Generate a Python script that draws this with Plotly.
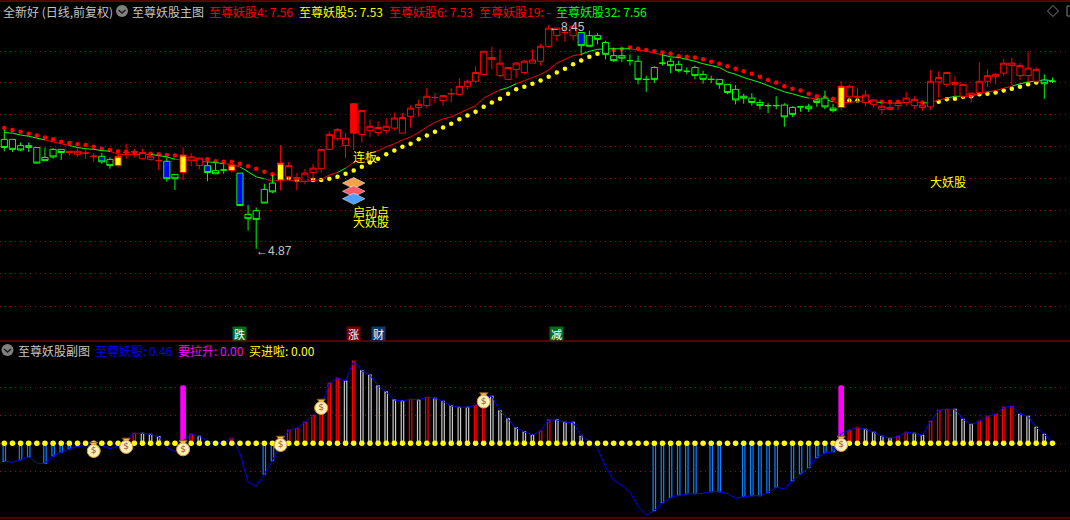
import plotly.graph_objects as go

candle_style = list("gggggggg" "yrrrbgy" "rrrrr" "bgy" "rr" "bgg" "y" "b" "gggg" "y" "rrrrrrrr" "R"
                    + "r" * 27 + "b" + "g" * 31 + "y" + "r" * 24 + "bg")
highs = [6.77,6.62,6.57,6.57,6.49,6.49,6.48,6.46,
 6.43,6.48,6.46,6.40,6.40,6.33,6.40,6.55,6.47,6.47,6.41,6.40,6.33,6.06,6.49,6.40,6.33,6.26,6.24,6.22,6.26,6.08,
 5.57,5.53,5.91,6.05,6.53,6.26,6.08,6.15,6.23,6.46,
 6.75,6.80,6.72,7.19,7.08,6.94,6.91,6.96,7.05,7.04,
 7.16,7.26,7.44,7.36,7.32,7.44,7.60,7.58,7.79,8.03,
 8.10,8.06,7.77,7.86,7.89,8.06,8.15,8.45,8.40,8.42,
 8.45,8.34,8.36,8.32,8.20,8.09,8.08,7.98,7.96,7.64,
 7.79,7.98,7.92,7.88,7.77,7.80,7.72,7.64,7.58,7.50,
 7.49,7.35,7.36,7.26,7.20,7.31,7.20,7.15,7.14,7.19,
 7.27,7.40,7.19,7.55,7.50,7.44,7.41,7.26,7.25,7.25,
 7.25,7.38,7.31,7.23,7.73,7.71,7.69,7.63,7.50,7.36,
 7.85,7.74,7.68,7.91,7.93,7.84,8.03,7.77,7.66,7.61]
lows = [6.43,6.42,6.43,6.42,6.24,6.28,6.31,6.29,6.36,6.34,
 6.31,6.26,6.23,6.15,6.17,6.31,6.33,6.30,6.28,6.13,
 5.94,5.81,5.97,6.19,6.14,5.95,6.07,6.07,6.09,5.56,
 5.16,4.87,5.60,5.76,5.80,5.97,5.80,5.90,5.95,6.09,
 6.45,6.60,6.32,6.45,6.57,6.66,6.67,6.70,6.76,6.72,
 6.81,6.98,7.12,7.20,7.16,7.21,7.34,7.42,7.52,7.65,
 7.74,7.61,7.57,7.60,7.66,7.84,7.80,8.09,8.19,8.18,
 8.20,7.96,8.10,8.14,7.90,7.86,7.86,7.80,7.50,7.38,
 7.52,7.80,7.68,7.69,7.66,7.58,7.51,7.52,7.43,7.34,
 7.18,7.19,7.16,7.10,7.04,7.10,6.82,6.98,7.06,7.06,
 7.14,7.10,7.05,7.08,7.21,7.20,7.15,7.13,7.02,7.08,
 7.09,7.15,7.10,7.08,7.09,7.29,7.46,7.30,7.28,7.21,
 7.37,7.46,7.50,7.63,7.49,7.57,7.53,7.53,7.27,7.52]
body_top = [6.62,6.62,6.52,6.52,6.49,6.33,6.46,6.46,6.43,6.43,
 6.40,6.35,6.35,6.30,6.35,6.41,6.42,6.41,6.35,6.28,
 6.27,6.06,6.37,6.34,6.32,6.20,6.12,6.13,6.21,6.08,
 5.42,5.48,5.82,5.92,6.24,6.20,6.01,6.08,6.16,6.46,
 6.70,6.78,6.64,7.19,7.08,6.83,6.81,6.83,6.96,6.97,
 7.12,7.18,7.31,7.29,7.32,7.35,7.47,7.55,7.69,8.03,
 7.93,7.84,7.77,7.84,7.87,7.89,8.11,8.40,8.40,8.33,
 8.43,8.33,8.28,8.28,8.17,7.96,7.96,7.88,7.87,7.58,
 7.77,7.84,7.87,7.82,7.71,7.77,7.66,7.58,7.58,7.50,
 7.42,7.31,7.28,7.21,7.16,7.16,7.17,7.13,7.14,7.15,
 7.25,7.28,7.12,7.47,7.47,7.30,7.33,7.25,7.15,7.13,
 7.21,7.28,7.26,7.17,7.55,7.61,7.69,7.53,7.50,7.36,
 7.55,7.64,7.66,7.84,7.84,7.80,7.76,7.74,7.57,7.55]
body_bottom = [6.49,6.46,6.45,6.49,6.24,6.28,6.34,6.41,6.41,6.38,
 6.40,6.35,6.26,6.20,6.20,6.41,6.42,6.31,6.30,6.28,
 5.99,5.99,6.09,6.29,6.20,6.09,6.07,6.13,6.12,5.56,
 5.35,5.34,5.60,5.78,5.97,6.02,5.98,5.95,6.09,6.15,
 6.46,6.63,6.52,6.72,6.70,6.76,6.73,6.76,6.80,6.72,
 6.99,7.13,7.16,7.29,7.24,7.35,7.34,7.47,7.55,7.66,
 7.90,7.64,7.58,7.74,7.69,7.84,7.87,8.11,8.28,8.33,
 8.28,8.12,8.11,8.22,7.98,7.88,7.92,7.88,7.58,7.58,
 7.58,7.84,7.80,7.72,7.71,7.64,7.58,7.58,7.50,7.37,
 7.25,7.28,7.21,7.16,7.16,7.16,6.98,7.02,7.14,7.11,
 7.21,7.14,7.08,7.13,7.30,7.30,7.21,7.18,7.10,7.10,
 7.16,7.21,7.16,7.13,7.14,7.54,7.50,7.50,7.31,7.33,
 7.37,7.55,7.63,7.68,7.80,7.64,7.64,7.55,7.51,7.55]
trend_line = [6.73,6.72,6.69,6.67,6.64,6.61,6.58,6.55,6.52,6.49,6.47,6.46,6.44,6.43,6.38,6.38,6.38,6.38,6.38,6.36,
 6.34,6.30,6.29,6.29,6.27,6.26,6.25,6.23,6.22,6.18,6.10,6.02,5.99,5.95,5.97,5.97,5.95,5.95,5.96,5.98,
 6.05,6.09,6.16,6.25,6.30,6.40,6.44,6.50,6.55,6.61,6.66,6.73,6.82,6.89,6.95,6.98,7.04,7.10,7.16,7.28,
 7.35,7.41,7.45,7.51,7.56,7.61,7.66,7.73,7.84,7.90,7.96,7.98,8.03,8.06,8.07,8.07,8.07,8.07,8.05,8.03,
 8.00,7.97,7.94,7.93,7.90,7.87,7.83,7.80,7.77,7.70,7.66,7.61,7.57,7.53,7.48,7.43,7.38,7.35,7.31,7.28,
 7.27,7.26,7.22,7.21,7.21,7.23,7.23,7.22,7.21,7.20,7.20,7.21,7.23,7.20,7.21,7.25,7.28,7.31,7.31,7.31,
 7.35,7.38,7.40,7.44,7.47,7.51,7.54,7.55,7.57,7.56]
trend_green_runs = [(0,5),(8,13),(18,21),(25,27),(29,32),(41,42),(61,63),(71,77),(81,99),(100,102),
                    (106,108),(113,114),(116,118),(124,129)]
red_dot_days = [0,1,2,3,4,5,6,7,8,9,10,11,12,13,14,15,16,18,19,20,21,25,26,27,28,29,30,31,32,33,
                75,76,77,78,79,80,81,82,83,84,85,86,87,88,89,90,91,92,93,94,95,96,97,98,99,100,101,102,108,109,110,113]
red_dot_values = [6.80,6.77,6.74,6.71,6.68,6.65,6.62,6.58,6.56,6.54,6.53,6.50,6.47,6.45,6.43,6.42,6.41,6.39,6.38,6.37,6.36,
                  6.30,6.27,6.26,6.26,6.23,6.19,6.15,6.10,6.06,
                  8.05,8.07,8.09,8.07,8.05,8.03,8.01,7.99,7.95,7.94,7.93,7.90,7.86,7.83,7.79,7.75,7.71,7.67,7.62,7.57,7.53,
                  7.47,7.43,7.40,7.35,7.31,7.29,7.27,7.22,7.22,7.22,7.21]
yellow_dot_days = [35,36,38,39,40,41,42,43,44,45,46,47,48,49,50,51,52,53,54,55,56,57,58,59,60,61,62,63,64,65,66,67,68,69,70,71,72,73,
                   104,105,115,116,117,118,119,120,121,122,123,124,125,126,127]
yellow_dot_values = [6.00,5.97,5.97,5.97,5.99,6.02,6.07,6.12,6.18,6.25,6.31,6.38,6.44,6.50,6.55,6.62,6.68,6.74,6.81,6.87,6.94,7.00,7.06,
                     7.14,7.21,7.27,7.35,7.42,7.46,7.51,7.56,7.62,7.69,7.75,7.82,7.88,7.94,7.99,
                     7.24,7.24,7.22,7.26,7.27,7.30,7.31,7.34,7.35,7.37,7.40,7.43,7.46,7.50,7.53]
price_grid = [8.03,7.53,7.02,6.51,6.00,5.49,4.98,4.47,3.95]
gem_day = 43
gem_prices = [5.92,5.79,5.67]
gem_colours = ["#f4a24a","#ff5a6a","#4f9fff"]

momentum = [-12.9,-13.6,-11.7,-9.5,-14.3,-14.3,-9.0,-6.4,-4.0,-2.1,-1.7,-1.2,-1.7,-3.8,-1.9,2.4,7.1,7.1,6.4,4.8,
 -2.9,-6.0,1.9,6.4,5.0,1.7,0.5,0.7,3.6,-7.1,-27.6,-30.7,-22.1,-12.4,0.0,9.3,10.7,15.0,20.0,26.2,
 42.9,46.4,44.5,58.8,51.7,48.8,41.0,36.7,31.0,30.2,31.4,31.0,32.9,32.1,30.0,26.7,25.7,25.7,27.1,33.3,
 33.6,23.1,17.4,11.0,8.1,6.0,8.8,16.7,16.7,15.0,15.0,5.0,1.7,-3.6,-16.7,-26.4,-30.2,-34.8,-45.2,-51.2,
 -48.1,-42.4,-38.6,-37.1,-36.0,-36.0,-35.7,-34.5,-34.5,-36.0,-39.3,-38.1,-37.4,-37.4,-35.2,-31.4,-32.6,-26.7,-21.7,-17.4,
 -10.2,-6.7,-6.0,7.1,9.3,11.4,10.0,7.9,5.0,3.6,5.0,7.9,7.1,5.7,15.7,23.6,24.3,24.3,17.1,13.6,
 15.7,19.3,20.7,25.7,26.4,20.7,19.3,11.4,6.4,0.46]
blue_bar_days = [0,2,3,5,6,7,8,9,32,33,80,81,82,83,84,85,87,88,91,92,93,94,95,97,98,99,100,101,102]
red_bar_days = [16,23,28,35,36,37,38,39,40,41,43,50,52,58,59,66,67,104,105,110,111,114,115,116,120,121,122,123,124]
white_bar_days = [17,18,19,24,42,44,45,46,47,48,49,51,53,54,55,56,57,60,61,62,63,64,65,68,69,70,71,
                  106,107,108,109,112,113,117,118,119,125,126,127,128]
surge_days = [22,103]
surge_values = [41.4,41.4]
bag_days = [11,15,22,34,39,59,103]
bag_values = [-5.5,-2.6,-4.3,-1.2,25.2,29.8,-1.2]
lower_grid = [40,20,0,-20]

days = list(range(len(highs)))
RED, GREEN, YELLOW, BLUE = "#ff0000", "#00ff00", "#ffff00", "#0000ff"
CJK = "Noto Sans CJK SC, sans-serif"
fig = go.Figure()

# ---- main panel, dots and trend sit under the candles
fig.add_trace(go.Scatter(x=red_dot_days, y=red_dot_values, mode="markers", xaxis="x", yaxis="y",
                         marker=dict(color=RED, size=4.5), name="至尊妖股4"))
fig.add_trace(go.Scatter(x=yellow_dot_days, y=yellow_dot_values, mode="markers", xaxis="x", yaxis="y",
                         marker=dict(color=YELLOW, size=4.5), name="至尊妖股5"))
in_green = [False] * (len(days) - 1)
for a, b in trend_green_runs:
    for k in range(a, b):
        in_green[k] = True
for colour, flag, nm in ((RED, False, "至尊妖股6"), (GREEN, True, "至尊妖股32")):
    xs, ys = [], []
    for k, g in enumerate(in_green):
        if g == flag:
            xs += [days[k], days[k + 1], None]
            ys += [trend_line[k], trend_line[k + 1], None]
    fig.add_trace(go.Scatter(x=xs, y=ys, mode="lines", xaxis="x", yaxis="y", name=nm,
                             line=dict(color=colour, width=1)))

styles = {"r": (RED, "#000000"), "g": (GREEN, "#000000"), "y": (RED, YELLOW),
          "b": (GREEN, BLUE), "R": (RED, RED)}
for key, (edge, fill) in styles.items():
    idx = [i for i in days if candle_style[i] == key]
    falling = key in "gb"
    fig.add_trace(go.Candlestick(
        x=idx,
        open=[(body_top if falling else body_bottom)[i] for i in idx],
        close=[(body_bottom if falling else body_top)[i] for i in idx],
        high=[highs[i] for i in idx], low=[lows[i] for i in idx],
        xaxis="x", yaxis="y3", name=key,
        increasing=dict(line=dict(color=edge, width=1), fillcolor=fill),
        decreasing=dict(line=dict(color=edge, width=1), fillcolor=fill),
    ))

for p, c in zip(gem_prices, gem_colours):
    fig.add_trace(go.Scatter(x=[gem_day], y=[p], mode="markers", xaxis="x", yaxis="y3",
                             marker=dict(symbol="diamond-wide", size=16, color=c,
                                         line=dict(color="#ffffff", width=0.5)), showlegend=False))

# ---- lower panel
for day_list, colour in ((blue_bar_days, "#0e82ff"), (red_bar_days, RED), (white_bar_days, "#c8c8c8")):
    fig.add_trace(go.Bar(x=day_list, y=[momentum[i] for i in day_list], width=0.3, xaxis="x", yaxis="y2",
                         marker=dict(color="#000000", line=dict(color=colour, width=1.2))))
fig.add_trace(go.Bar(x=surge_days, y=surge_values, width=0.7, xaxis="x", yaxis="y2", name="要拉升",
                     marker=dict(color="#ff00ff", line=dict(width=0), cornerradius=3)))
fig.add_trace(go.Scatter(x=days, y=momentum, mode="lines", xaxis="x", yaxis="y2", name="至尊妖股",
                         line=dict(color=BLUE, width=1)))
fig.add_trace(go.Scatter(x=days, y=[0] * len(days), mode="markers", xaxis="x", yaxis="y2", name="买进啦",
                         marker=dict(color=YELLOW, size=5.5)))
fig.add_trace(go.Scatter(x=bag_days, y=[v + 5 for v in bag_values], mode="markers", xaxis="x", yaxis="y2",
                         marker=dict(symbol="triangle-down", size=7, color="#f5c542",
                                     line=dict(color="#8a5a20", width=1))))
fig.add_trace(go.Scatter(x=bag_days, y=bag_values, mode="markers+text", xaxis="x", yaxis="y2",
                         text=["$"] * len(bag_days), textposition="middle center",
                         textfont=dict(family="DejaVu Sans", size=9, color="#9c4a3a"),
                         marker=dict(size=13, color="#fdf0b4", line=dict(color="#e0a030", width=1))))

PX = 520.0
def py(px):
    return 1 - px / PX

annos = []
def label(text, x, y, colour, size=12, **kw):
    annos.append(dict(text=text, x=x, y=y, xref="paper", yref="paper", xanchor="left", yanchor="middle",
                      showarrow=False, xshift=-2, font=dict(family=CJK, size=size, color=colour), **kw))
GREY = "#c4c4c4"
label("全新好 (日线,前复权)", 3 / 1070, py(11), GREY)
label("至尊妖股主图", 132 / 1070, py(11), GREY)
label("至尊妖股4: 7.56", 209 / 1070, py(11), RED)
label("至尊妖股5: 7.53", 299 / 1070, py(11), YELLOW)
label("至尊妖股6: 7.53", 389 / 1070, py(11), RED)
label("至尊妖股19: -", 479 / 1070, py(11), RED)
label("至尊妖股32: 7.56", 556 / 1070, py(11), GREEN)
label("至尊妖股副图", 18 / 1070, py(350), GREY)
label("至尊妖股: 0.46", 95 / 1070, py(350), BLUE)
label("要拉升: 0.00", 178 / 1070, py(350), "#ff00ff")
label("买进啦: 0.00", 249 / 1070, py(350), YELLOW)

for t, d, p in (("连板", 43, 6.34), ("启动点", 43, 5.47), ("大妖股", 43, 5.30), ("大妖股", 114, 5.94)):
    annos.append(dict(text=t, x=d, y=p, xref="x", yref="y", xanchor="left", yanchor="middle", showarrow=False,
                      xshift=-3, font=dict(family=CJK, size=12, color=YELLOW)))
for t, d, p, dy in (("←8.45", 67, 8.45, 2), ("←4.87", 31, 4.87, 2)):
    annos.append(dict(text=t, x=d, y=p, xref="x", yref="y", xanchor="left", yanchor="middle", showarrow=False,
                      yshift=-dy, xshift=-2, font=dict(family="Liberation Sans", size=12, color=GREY)))
for t, d, bg in (("跌", 29, "#006b1f"), ("涨", 43, "#7a0000"), ("财", 46, "#0a3a6a"), ("减", 68, "#006b1f")):
    annos.append(dict(text=t, x=d, y=py(333.5), xref="x", yref="paper", xanchor="center", yanchor="middle",
                      showarrow=False, bgcolor=bg, borderpad=0, width=13, height=13,
                      font=dict(family=CJK, size=11, color="#ffffff")))

shapes = []
for px_y in (1, 341, 518):
    shapes.append(dict(type="line", xref="paper", yref="paper", x0=0, x1=1, y0=py(px_y), y1=py(px_y),
                       line=dict(color="#b00000", width=1.2)))
for cx, cy in ((122, 11), (7.5, 350)):
    shapes.append(dict(type="circle", xref="paper", yref="paper", fillcolor="#808080", line=dict(width=0),
                       x0=(cx - 6) / 1070, x1=(cx + 6) / 1070, y0=py(cy + 6), y1=py(cy - 6)))
    shapes.append(dict(type="path", xref="paper", yref="paper", line=dict(color="#1a1a1a", width=1.5),
                       path=f"M {(cx-3.5)/1070} {py(cy-1)} L {cx/1070} {py(cy+2)} L {(cx+3.5)/1070} {py(cy-1)}"))
shapes.append(dict(type="path", xref="paper", yref="paper", line=dict(color="#808080", width=1),
                   path=f"M {1047.5/1070} {py(11)} L {1053/1070} {py(5.5)} L {1058.5/1070} {py(11)} L {1053/1070} {py(16.5)} Z"))
shapes.append(dict(type="rect", xref="paper", yref="paper", line=dict(color="#808080", width=1),
                   x0=1067 / 1070, x1=1073 / 1070, y0=py(16), y1=py(6)))

main_range = [8.85 - 0.016 * 341, 8.85]
axis_off = dict(showticklabels=False, ticks="", zeroline=False, showline=False, fixedrange=True)
fig.update_layout(
    width=1070, height=520, margin=dict(l=0, r=0, t=0, b=0), autosize=False,
    paper_bgcolor="#000000", plot_bgcolor="#000000", showlegend=False, barmode="overlay",
    boxgap=0.24, boxgroupgap=0,
    annotations=annos, shapes=shapes,
    xaxis=dict(range=[-0.533, 131.16], domain=[0, 1], showgrid=False, rangeslider=dict(visible=False),
               anchor="y", **axis_off),
    yaxis=dict(domain=[py(341), 1], range=main_range, tickmode="array", tickvals=price_grid, showgrid=True,
               gridcolor="#8a1414", griddash="1px,4px", gridwidth=1, **axis_off),
    yaxis3=dict(overlaying="y", range=main_range, showgrid=False, **axis_off),
    yaxis2=dict(domain=[py(518), py(342)], range=[-53.36, 72.36], tickmode="array", tickvals=lower_grid,
                showgrid=True, gridcolor="#8a1414", griddash="1px,4px", gridwidth=1, anchor="x", **axis_off),
)
fig.write_html("out.html", config={"displayModeBar": False},
               post_script="document.body.style.margin='0';document.body.style.background='#000';document.documentElement.style.overflow='hidden';")
